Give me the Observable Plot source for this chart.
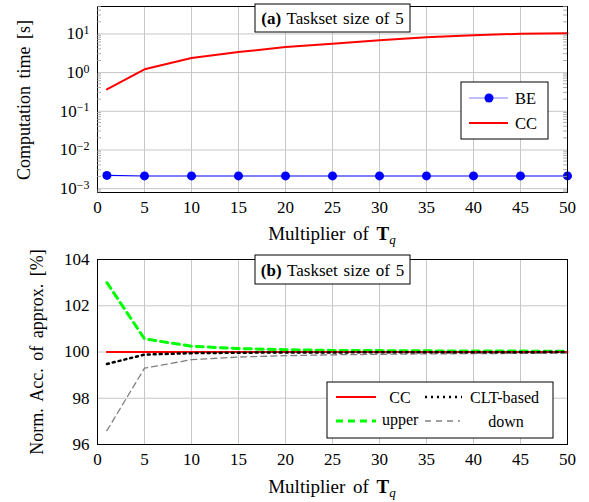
<!DOCTYPE html>
<html><head><meta charset="utf-8">
<script src="https://cdn.jsdelivr.net/npm/d3@7"></script>
<script src="https://cdn.jsdelivr.net/npm/@observablehq/plot@0.6"></script>
<style>body{margin:0;background:#fff} svg{display:block}</style>
</head><body><div id="c"></div>
<script>
const multipliers = [1,5,10,15,20,25,30,35,40,45,50];
const beTime = [0.0022,0.00213,0.00213,0.00213,0.00213,0.00213,0.00213,0.00213,0.00213,0.00213,0.00213];
const ccTime = [0.37,1.22,2.4,3.4,4.6,5.6,6.9,8.2,9.3,10.1,10.5];
const ccAcc = [100,100,100,100,100,100,100,100,100,100,100];
const cltAcc = [99.48,99.89,99.95,99.97,99.98,99.98,99.99,99.99,99.99,99.99,100];
const upperAcc = [103.0,100.57,100.25,100.15,100.1,100.07,100.06,100.05,100.04,100.04,100.03];
const downAcc = [96.6,99.3,99.67,99.78,99.84,99.88,99.9,99.92,99.93,99.94,99.95];
const xTicks = [0,5,10,15,20,25,30,35,40,45,50];
const logTicks = [1e-3,1e-2,1e-1,1,10];
const accTicks = [96,98,100,102,104];
const titleA = ["(a)", " Taskset size of 5"];
const titleB = ["(b)", " Taskset size of 5"];
const yLabelA = "Computation time [s]";
const yLabelB = "Norm. Acc. of approx. [%]";
const legendA = ["BE","CC"];
const legendB = ["CC","CLT-based","upper","down"];

const FONT = "'Liberation Serif', 'Times New Roman', serif";
const GRID = "#c6c6c6";
const TICKFS = 17;
const rows = (ys) => multipliers.map((x,i)=>({x, y: ys[i]}));

const minor = [];
for (let e=-4;e<=1;e++) for (let m=2;m<=9;m++){const v=m*10**e; if (v>=10**-3.1 && v<=10**1.71) minor.push(v);}

function tickFont(svg){
  d3.select(svg).selectAll('g[aria-label$="tick label"]')
    .attr("font-size",TICKFS).style("font-family",FONT).style("font-size",TICKFS+"px");
}
function supFix(svg){
  d3.select(svg).selectAll("text").each(function(){
    const t = this.textContent;
    if (t.startsWith("10^")) {
      const e = t.slice(3);
      const s = d3.select(this); s.text(null);
      s.append("tspan").text("10");
      s.append("tspan").attr("dy","-0.45em").style("font-size","12px").text(e.replace("-","\u2212"));
    }
  });
}
function addText(svg, x, y, opts={}){
  const t = d3.select(svg).append("text").attr("x",x).attr("y",y)
    .style("font-family",FONT).style("font-size",opts.size||"16px").attr("fill","#000")
    .attr("text-anchor",opts.anchor||"start");
  if (opts.ws) t.attr("word-spacing",opts.ws);
  if (opts.rotate) t.attr("transform",`rotate(-90 ${x} ${y})`);
  return t;
}
function xLabel(svg, cx, y){
  const t = addText(svg, cx, y, {anchor:"middle", size:"19px", ws:3});
  t.append("tspan").text("Multiplier of ");
  t.append("tspan").attr("font-weight","bold").text("T");
  t.append("tspan").style("font-style","italic").style("font-size","13px").attr("dy","4").text("q");
}
function titleBox(svg, x0, y0, x1, y1, parts){
  const g = d3.select(svg);
  g.append("rect").attr("x",x0).attr("y",y0).attr("width",x1-x0).attr("height",y1-y0).attr("fill","#fff").attr("stroke","#000").attr("stroke-width",1);
  const t = addText(svg,(x0+x1)/2,(y0+y1)/2+6,{anchor:"middle",size:"17px",ws:1.5});
  t.append("tspan").attr("font-weight","bold").text(parts[0]);
  t.append("tspan").text(parts[1]);
}
function minorTicks(svg, vals){
  const y = svg.scale("y"), g = d3.select(svg);
  for (const v of vals) {
    const py = y.apply(v);
    g.append("line").attr("x1",97).attr("x2",101).attr("y1",py).attr("y2",py).attr("stroke","#999").attr("stroke-width",0.8);
    g.append("line").attr("x1",563).attr("x2",567).attr("y1",py).attr("y2",py).attr("stroke","#999").attr("stroke-width",0.8);
  }
}

// ---------- top chart ----------
const topPlot = Plot.plot({
  width:589, height:248, marginLeft:97, marginRight:22, marginTop:6, marginBottom:56,
  style:{fontFamily:FONT, color:"#000", background:"#fff", overflow:"visible"},
  x:{domain:[0,50]},
  y:{type:"log", domain:[10**-3.1,10**1.71]},
  marks:[
    Plot.gridX(xTicks,{stroke:GRID, strokeOpacity:1}),
    Plot.gridY(logTicks,{stroke:GRID, strokeOpacity:1}),
    Plot.axisX(xTicks,{tickSize:0, tickPadding:8, label:null, fontSize:TICKFS}),
    Plot.axisY(logTicks,{tickSize:0, tickPadding:8, label:null, fontSize:TICKFS, tickFormat:d=>"10^"+Math.round(Math.log10(d))}),
    Plot.line(rows(ccTime),{x:"x",y:"y",stroke:"#ff0000",strokeWidth:2}),
    Plot.line(rows(beTime),{x:"x",y:"y",stroke:"#0000ff",strokeWidth:1.1}),
    Plot.dot(rows(beTime),{x:"x",y:"y",fill:"#0000ff",r:4.5}),
    Plot.frame({stroke:"#000", strokeWidth:1})
  ]
});
tickFont(topPlot);
supFix(topPlot);
minorTicks(topPlot, minor);
titleBox(topPlot,255,4,410,32,titleA);
addText(topPlot,24,100,{anchor:"middle",size:"18px",rotate:true,ws:3}).attr("dy","0.35em").text(yLabelA);
xLabel(topPlot,332,240);
{
  const g = d3.select(topPlot);
  g.append("rect").attr("x",461).attr("y",82).attr("width",87).attr("height",57).attr("fill","#fff").attr("stroke","#000");
  g.append("line").attr("x1",469).attr("x2",508).attr("y1",98).attr("y2",98).attr("stroke","#8080ff").attr("stroke-width",1.2);
  g.append("circle").attr("cx",489).attr("cy",98).attr("r",4.5).attr("fill","#0000ff");
  g.append("line").attr("x1",469).attr("x2",508).attr("y1",123).attr("y2",123).attr("stroke","#ff0000").attr("stroke-width",2);
  addText(topPlot,515,104,{size:"16.5px"}).text(legendA[0]);
  addText(topPlot,515,129,{size:"16.5px"}).text(legendA[1]);
}

// ---------- bottom chart ----------
const botPlot = Plot.plot({
  width:589, height:254, marginLeft:97, marginRight:22, marginTop:11, marginBottom:58,
  style:{fontFamily:FONT, color:"#000", background:"#fff", overflow:"visible"},
  x:{domain:[0,50]},
  y:{domain:[96,104]},
  marks:[
    Plot.gridX(xTicks,{stroke:GRID, strokeOpacity:1}),
    Plot.gridY(accTicks,{stroke:GRID, strokeOpacity:1}),
    Plot.axisX(xTicks,{tickSize:0, tickPadding:8, label:null, fontSize:TICKFS}),
    Plot.axisY(accTicks,{tickSize:0, tickPadding:8, label:null, fontSize:TICKFS}),
    Plot.line(rows(downAcc),{x:"x",y:"y",stroke:"#808080",strokeWidth:1.3,strokeDasharray:"6 4"}),
    Plot.line(rows(upperAcc),{x:"x",y:"y",stroke:"#00ff00",strokeWidth:3,strokeDasharray:"7 5"}),
    Plot.line(rows(ccAcc),{x:"x",y:"y",stroke:"#ff0000",strokeWidth:2}),
    Plot.line(rows(cltAcc),{x:"x",y:"y",stroke:"#000",strokeWidth:2.5,strokeDasharray:"2 4"}),
    Plot.frame({stroke:"#000", strokeWidth:1})
  ]
});
tickFont(botPlot);
titleBox(botPlot,255,7,410,36,titleB);
addText(botPlot,37,104,{anchor:"middle",size:"18px",rotate:true,ws:3}).attr("dy","0.35em").text(yLabelB);
xLabel(botPlot,332,245);
{
  const g = d3.select(botPlot);
  g.append("rect").attr("x",327).attr("y",134).attr("width",226).attr("height",56).attr("fill","#fff").attr("stroke","#000");
  g.append("line").attr("x1",336).attr("x2",376).attr("y1",149).attr("y2",149).attr("stroke","#ff0000").attr("stroke-width",2);
  g.append("line").attr("x1",425).attr("x2",462).attr("y1",149).attr("y2",149).attr("stroke","#000").attr("stroke-width",2.5).attr("stroke-dasharray","2 4");
  g.append("line").attr("x1",336).attr("x2",376).attr("y1",173).attr("y2",173).attr("stroke","#00ff00").attr("stroke-width",3).attr("stroke-dasharray","7 5");
  g.append("line").attr("x1",425).attr("x2",460).attr("y1",173).attr("y2",173).attr("stroke","#808080").attr("stroke-width",1.3).attr("stroke-dasharray","6 5");
  addText(botPlot,400,155,{anchor:"middle",size:"16px"}).text(legendB[0]);
  addText(botPlot,470,155,{size:"16px"}).text(legendB[1]);
  addText(botPlot,382,177,{size:"16px"}).text(legendB[2]);
  addText(botPlot,506,179,{anchor:"middle",size:"16px"}).text(legendB[3]);
}

document.getElementById("c").append(topPlot, botPlot);
</script>
</body></html>
